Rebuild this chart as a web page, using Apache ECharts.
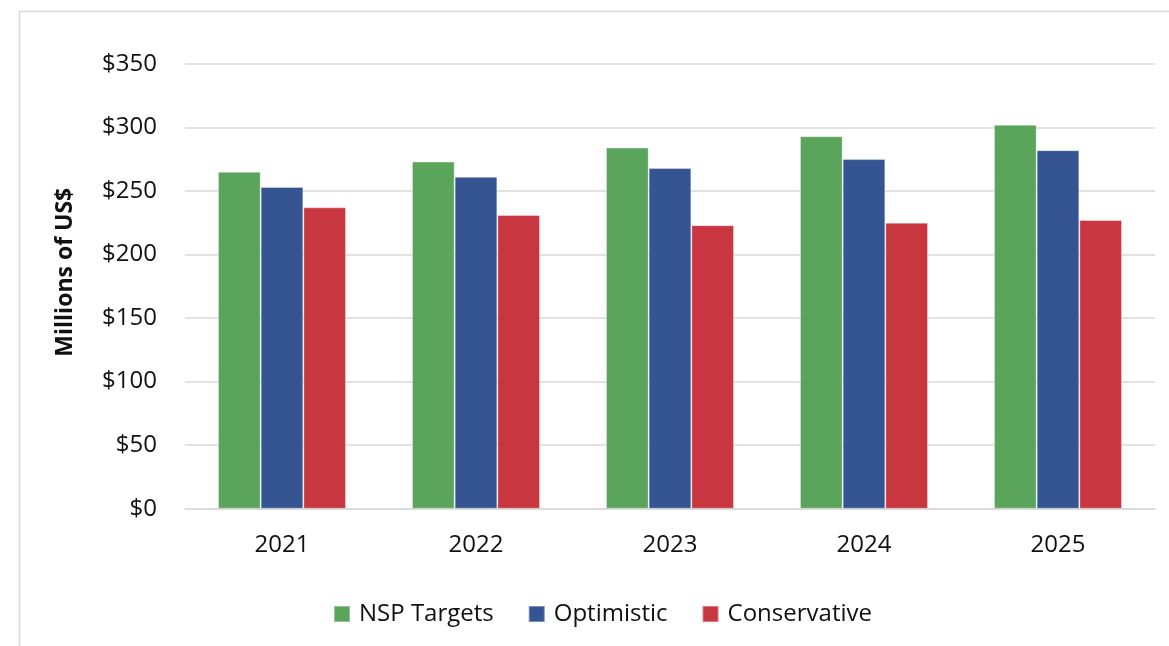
<!DOCTYPE html>
<html>
<head>
<meta charset="utf-8">
<script src="https://cdn.jsdelivr.net/npm/echarts@6/dist/echarts.min.js"></script>
<style>
html,body{margin:0;padding:0;background:#fff;}
#chart{width:1169px;height:646px;}
</style>
</head>
<body>
<div id="chart"></div>
<script>
const categories = ["2021", "2022", "2023", "2024", "2025"];
const nspTargets = [265, 273, 284, 293, 302];
const optimistic = [253, 261, 268, 275, 282];
const conservative = [237, 231, 223, 225, 227];
const seriesNames = ["NSP Targets", "Optimistic", "Conservative"];
const colors = ["#5BA45C", "#355592", "#C8363F"];

const FONT = "Open Sans";
const chart = echarts.init(document.getElementById('chart'), null, {renderer: 'canvas'});
const dataSets = [nspTargets, optimistic, conservative];

chart.setOption({
  backgroundColor: '#fff',
  animation: false,
  textStyle: {fontFamily: FONT, color: '#111'},
  graphic: [{
    type: 'polyline',
    shape: {points: [[19.5, 700], [19.5, 11.5], [1200, 11.5]]},
    style: {stroke: '#d9d9d9', lineWidth: 1.5, fill: null},
    silent: true
  }],
  grid: {left: 185, right: 14, top: 63.7, bottom: 137.3, containLabel: false},
  legend: {
    data: seriesNames,
    left: 328, top: 597,
    itemWidth: 16, itemHeight: 16, itemGap: 34,
    icon: 'rect',
    textStyle: {fontFamily: FONT, fontSize: 24, color: '#111', padding: [0, 0, 0, 4]}
  },
  xAxis: {
    type: 'category',
    data: categories,
    axisLine: {show: true, lineStyle: {color: '#d9d9d9', width: 1.5}},
    axisTick: {show: false},
    axisLabel: {fontFamily: FONT, fontSize: 24, color: '#111', margin: 24}
  },
  yAxis: {
    type: 'value',
    min: 0, max: 350, interval: 50,
    name: 'Millions of US$',
    nameLocation: 'middle',
    nameGap: 108,
    nameRotate: 90,
    nameTextStyle: {fontFamily: FONT, fontSize: 23, fontWeight: 'bold', color: '#111', padding: [0, 0, 0, 28]},
    axisLine: {show: false},
    axisTick: {show: false},
    splitLine: {lineStyle: {color: '#d9d9d9', width: 1.5}},
    axisLabel: {fontFamily: FONT, fontSize: 24, color: '#111', margin: 28,
      formatter: v => '$' + v}
  },
  series: seriesNames.map((n, i) => ({
    name: n,
    type: 'bar',
    data: dataSets[i],
    barGap: '0%',
    barCategoryGap: '34%',
    itemStyle: {color: colors[i], borderColor: 'rgba(255,255,255,0.35)', borderWidth: 1}
  }))
});
</script>
</body>
</html>
